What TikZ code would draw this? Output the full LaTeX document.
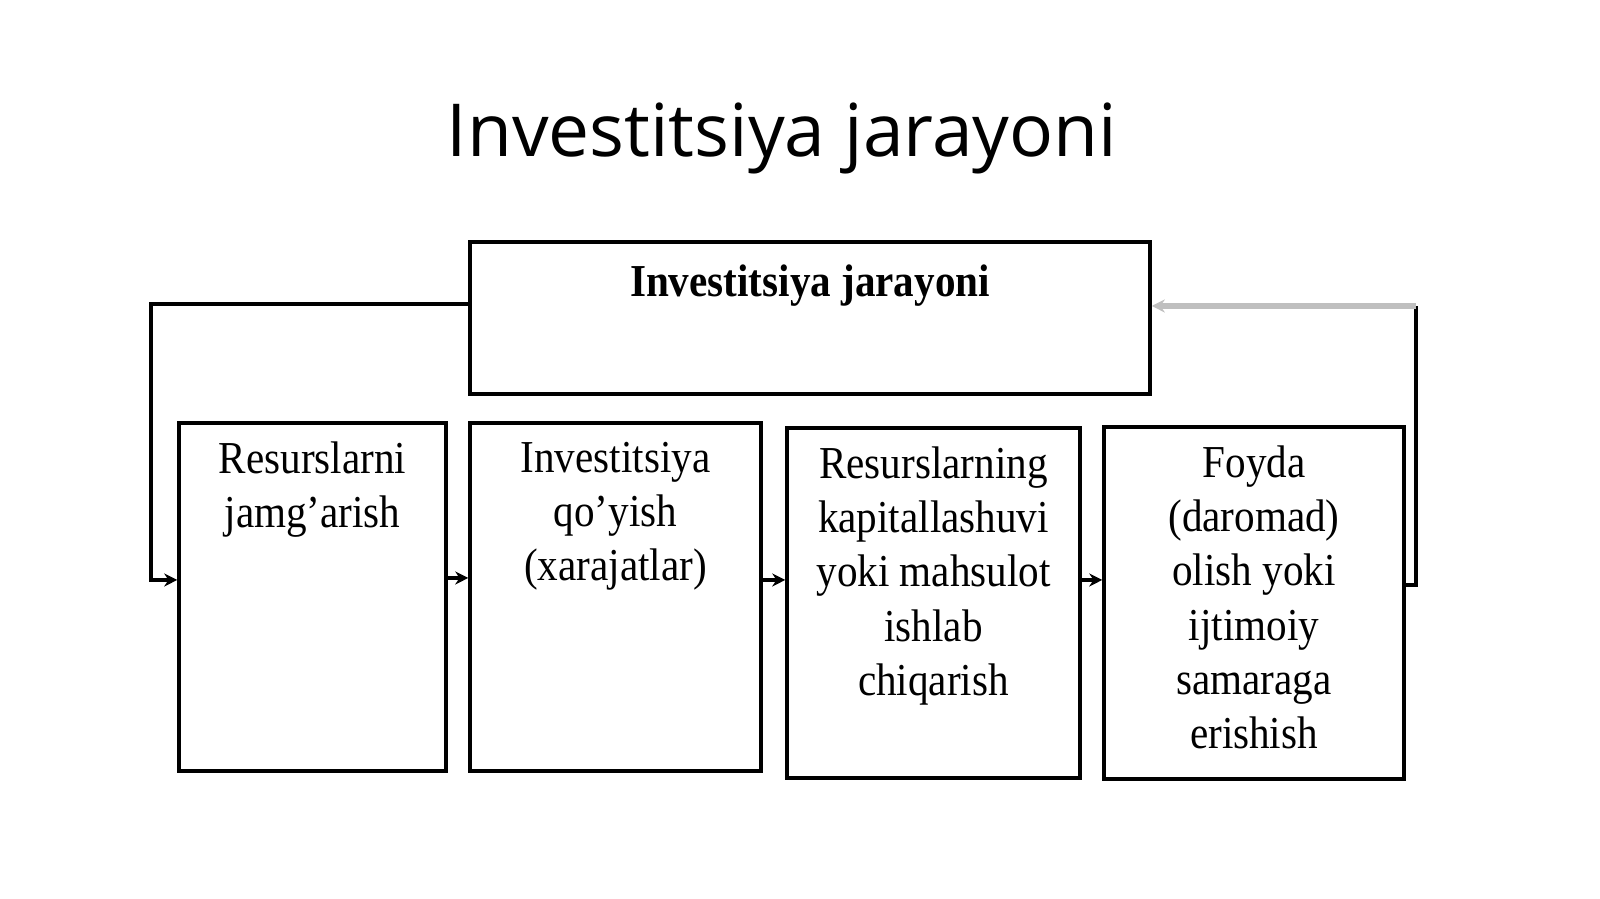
\documentclass[tikz,border=0pt]{standalone}
\usepackage{fontspec}
\setmainfont[FakeStretch=0.9]{Liberation Serif}
\newfontfamily\titlefont{Open Sans}
\usetikzlibrary{positioning,arrows.meta}

\tikzset{
  box/.style={draw, line width=1pt, inner sep=0pt},
  lbl/.style={align=center, inner sep=0pt, font=\fontsize{13}{15.4}\selectfont},
  arr/.style={line width=1pt, -{Stealth[length=1.3mm,width=1.3mm]}}
}

\begin{document}
\begin{tikzpicture}
    \useasboundingbox (0,0) rectangle (16,8.99);
    \node[anchor=base, font=\titlefont\fontsize{20.8}{25}\selectfont] (title) at (7.82,7.42) {Investitsiya jarayoni};

    \node[box, minimum width=6.80cm, minimum height=1.52cm] (top) at (8.10,5.81) {};
    \node[box, minimum width=2.67cm, minimum height=3.48cm] (res) at (3.125,3.02) {};
    \node[box, minimum width=2.91cm, minimum height=3.48cm] (inv) at (6.155,3.02) {};
    \node[box, minimum width=2.93cm, minimum height=3.50cm] (kap) at (9.335,2.96) {};
    \node[box, minimum width=3.00cm, minimum height=3.52cm] (foy) at (12.54,2.96) {};

    \node[lbl, font=\bfseries\fontsize{13}{15}\selectfont, below=0.24cm of top.north] (toplbl) {Investitsiya jarayoni};
    \node[lbl, below=0.2cm of res.north] (reslbl) {Resurslarni\\jamg’arish};
    \node[lbl, below=0.2cm of inv.north] (invlbl) {Investitsiya\\qo’yish\\(xarajatlar)};
    \node[lbl, below=0.2cm of kap.north] (kaplbl) {Resurslarning\\kapitallashuvi\\yoki mahsulot\\ishlab\\chiqarish};
    \node[lbl, below=0.2cm of foy.north] (foylbl) {Foyda\\(daromad)\\olish yoki\\ijtimoiy\\samaraga\\erishish};

    \coordinate (l1) at (1.51,5.95);
    \coordinate (l2) at (1.51,3.19);
    \coordinate (r1) at (14.16,3.14);
    \coordinate (r2) at (14.16,5.93);

    \draw[arr] (top.west |- l1) -- (l1) -- (l2) -- (res.west |- l2);
    \draw[arr] (res.east |- 0,3.21) -- (inv.west |- 0,3.21);
    \draw[arr] (inv.east |- 0,3.19) -- (kap.west |- 0,3.19);
    \draw[arr] (kap.east |- 0,3.19) -- (foy.west |- 0,3.19);
    \draw[line width=1pt] (foy.east |- r1) -- (r1) -- (r2);
    \draw[arr, gray!50, line width=1.6pt] (r2) -- (top.east |- r2);
\end{tikzpicture}
\end{document}
